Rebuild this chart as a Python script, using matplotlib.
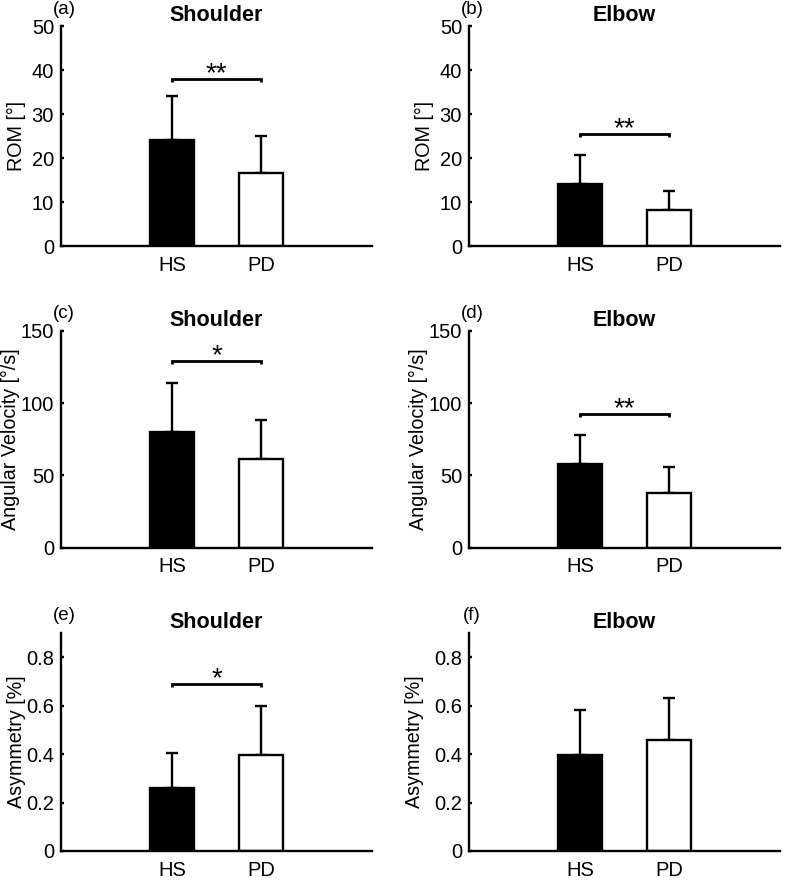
import matplotlib
matplotlib.use("Agg")
import matplotlib.pyplot as plt
import matplotlib.transforms as mtransforms

plt.rcParams['font.family'] = ['Liberation Sans', 'DejaVu Sans']

groups = ["HS", "PD"]
panel_letters = ["(a)", "(b)", "(c)", "(d)", "(e)", "(f)"]
titles = ["Shoulder", "Elbow", "Shoulder", "Elbow", "Shoulder", "Elbow"]
ylabels = ["ROM [°]", "ROM [°]", "Angular Velocity [°/s]", "Angular Velocity [°/s]",
           "Asymmetry [%]", "Asymmetry [%]"]

rom_shoulder_mean = [24.2, 16.5]
rom_shoulder_sd = [10.0, 8.6]
rom_elbow_mean = [14.2, 8.1]
rom_elbow_sd = [6.4, 4.4]
vel_shoulder_mean = [80.2, 61.3]
vel_shoulder_sd = [33.4, 26.7]
vel_elbow_mean = [57.8, 38.0]
vel_elbow_sd = [20.3, 17.6]
asym_shoulder_mean = [0.262, 0.397]
asym_shoulder_sd = [0.141, 0.203]
asym_elbow_mean = [0.395, 0.459]
asym_elbow_sd = [0.186, 0.174]

means = [rom_shoulder_mean, rom_elbow_mean, vel_shoulder_mean, vel_elbow_mean,
         asym_shoulder_mean, asym_elbow_mean]
sds = [rom_shoulder_sd, rom_elbow_sd, vel_shoulder_sd, vel_elbow_sd,
       asym_shoulder_sd, asym_elbow_sd]

sig_labels = ["**", "**", "*", "**", "*", None]
sig_heights = [38.0, 25.4, 129.0, 92.2, 0.688, None]

ylims = [50, 50, 150, 150, 0.9, 0.9]
yticks_list = [[0, 10, 20, 30, 40, 50], [0, 10, 20, 30, 40, 50],
               [0, 50, 100, 150], [0, 50, 100, 150],
               [0, 0.2, 0.4, 0.6, 0.8], [0, 0.2, 0.4, 0.6, 0.8]]
yticklabels_list = [["0", "10", "20", "30", "40", "50"], ["0", "10", "20", "30", "40", "50"],
                    ["0", "50", "100", "150"], ["0", "50", "100", "150"],
                    ["0", "0.2", "0.4", "0.6", "0.8"], ["0", "0.2", "0.4", "0.6", "0.8"]]

W, H = 785, 882
fig = plt.figure(figsize=(W / 100, H / 100), dpi=100)

col_left = [61, 469]
ax_w = 311
row_top = [26, 330.7, 633]
row_bot = [246, 547.7, 851]
label_x = [-0.113, -0.113, -0.132, -0.132, -0.113, -0.144]

lw = 1.7
xpos = [1, 2]
for i in range(6):
    r, c = divmod(i, 2)
    l = col_left[c]
    ax = fig.add_axes([l / W, 1 - row_bot[r] / H, ax_w / W, (row_bot[r] - row_top[r]) / H])
    m = means[i]
    s = sds[i]
    ax.bar(xpos, m, width=0.5, color=["black", "white"], edgecolor="black",
           linewidth=lw, zorder=2)
    ax.errorbar(xpos, m, yerr=[[0, 0], s], fmt="none", ecolor="black",
                elinewidth=lw, capsize=4.5, capthick=lw, zorder=1)
    ax.set_xlim(-0.25, 3.25)
    ax.set_ylim(0, ylims[i])
    ax.set_yticks(yticks_list[i])
    ax.set_yticklabels(yticklabels_list[i])
    ax.set_xticks(xpos)
    ax.set_xticklabels(groups)
    for sp in ["top", "right"]:
        ax.spines[sp].set_visible(False)
    for sp in ["left", "bottom"]:
        ax.spines[sp].set_linewidth(lw)
    ax.tick_params(axis="y", direction="in", length=2.5, width=lw, labelsize=14.5, pad=5)
    ax.tick_params(axis="x", length=0, labelsize=14.5, pad=7)
    ax.set_ylabel(ylabels[i], fontsize=14.2)
    ax.yaxis.set_label_coords(label_x[i], 0.5)
    ax.set_title(titles[i], fontsize=15.5, fontweight="bold", pad=1)
    trans = mtransforms.offset_copy(ax.transAxes, fig=fig, x=2.2, y=9, units="points")
    ax.text(0, 1, panel_letters[i], transform=trans, ha="center", va="baseline", fontsize=13.5)
    if sig_labels[i] is not None:
        yb = sig_heights[i]
        drop = 0.013 * ylims[i]
        ax.plot([1, 1, 2, 2], [yb - drop, yb, yb, yb - drop], color="black", lw=lw + 0.3,
                solid_capstyle="butt", solid_joinstyle="miter")
        strans = mtransforms.offset_copy(ax.transData, fig=fig, x=0, y=-1.5, units="points")
        ax.text(1.5, yb, sig_labels[i], transform=strans, ha="center", va="baseline",
                fontsize=20)

fig.savefig("out.png", dpi=100)
